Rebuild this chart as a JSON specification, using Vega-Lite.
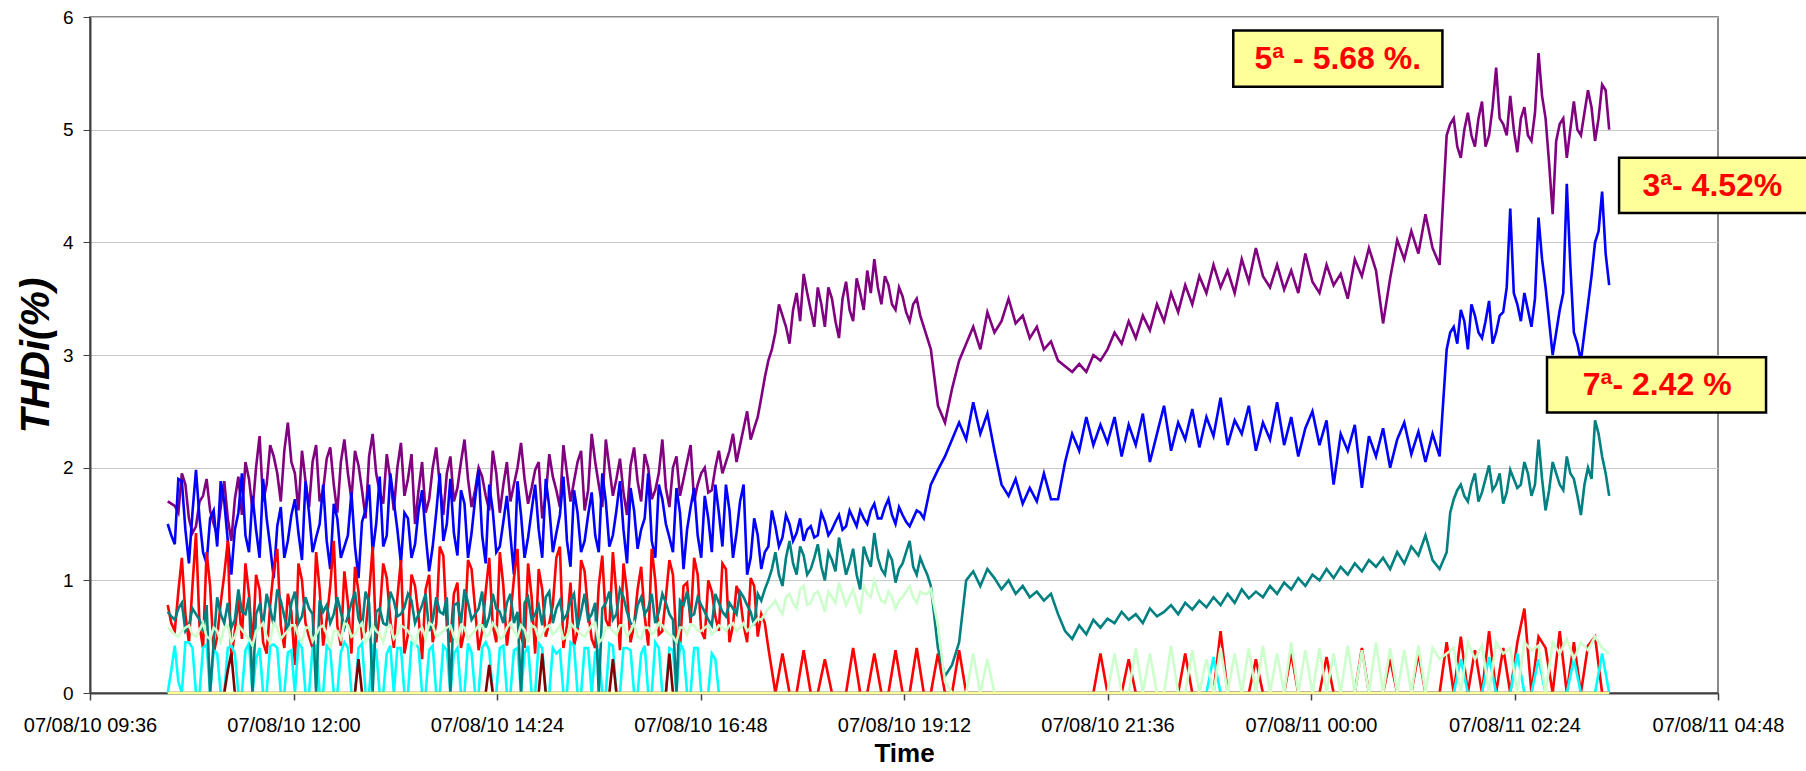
{
"$schema":"https://vega.github.io/schema/vega-lite/v6.json",
"width":1628,"height":676,
"autosize":"none",
"padding":{"left":90,"top":17,"right":88,"bottom":78},
"background":"white",
"config":{"view":{"stroke":"#8a8a8a","strokeWidth":2},"font":"Liberation Sans"},
"datasets":{
"thd":[
{"t":55,"p":1.70,"b":1.50,"g":0.72,"r":0.78,"l":0.58,"c":0,"d":0},
{"t":60,"p":1.66,"b":1.32,"g":0.65,"r":0.55,"l":0.52,"c":0.42,"d":0},
{"t":65,"p":1.95,"b":1.88,"g":0.80,"r":1.20,"l":0.55,"c":0,"d":0},
{"t":70,"p":1.55,"b":1.15,"g":0.60,"r":0.45,"l":0.60,"c":0.45,"d":0},
{"t":75,"p":1.48,"b":1.98,"g":0.70,"r":1.42,"l":0.50,"c":0,"d":0},
{"t":80,"p":1.75,"b":1.25,"g":0.55,"r":0.40,"l":0.62,"c":0.40,"d":0},
{"t":85,"p":1.62,"b":1.55,"g":0.00,"r":0.95,"l":0.48,"c":0,"d":0},
{"t":90,"p":1.40,"b":1.30,"g":0.85,"r":0.50,"l":0.55,"c":0.35,"d":0},
{"t":95,"p":1.88,"b":1.70,"g":0.62,"r":1.05,"l":0.58,"c":0,"d":0},
{"t":100,"p":1.35,"b":1.05,"g":0.58,"r":0.30,"l":0.45,"c":0.42,"d":0.35},
{"t":105,"p":1.92,"b":1.60,"g":0.92,"r":0.85,"l":0.60,"c":0,"d":0},
{"t":110,"p":2.05,"b":1.40,"g":0.70,"r":1.15,"l":0.52,"c":0.38,"d":0},
{"t":115,"p":1.62,"b":1.75,"g":0.00,"r":0.40,"l":0.42,"c":0,"d":0},
{"t":120,"p":2.28,"b":1.20,"g":0.78,"r":0.92,"l":0.58,"c":0.40,"d":0},
{"t":125,"p":1.85,"b":1.55,"g":0.88,"r":0.35,"l":0.50,"c":0,"d":0},
{"t":130,"p":2.10,"b":1.02,"g":0.60,"r":1.10,"l":0.62,"c":0.43,"d":0},
{"t":135,"p":1.70,"b":1.65,"g":0.82,"r":0.60,"l":0.48,"c":0,"d":0},
{"t":140,"p":2.40,"b":1.35,"g":0.55,"r":0.88,"l":0.55,"c":0.36,"d":0},
{"t":145,"p":1.95,"b":1.72,"g":0.90,"r":0.25,"l":0.60,"c":0,"d":0},
{"t":150,"p":2.15,"b":1.18,"g":0.68,"r":1.00,"l":0.45,"c":0.40,"d":0},
{"t":155,"p":1.65,"b":1.60,"g":0.75,"r":0.50,"l":0.58,"c":0,"d":0},
{"t":160,"p":2.20,"b":1.38,"g":0.00,"r":1.25,"l":0.52,"c":0.42,"d":0},
{"t":165,"p":1.80,"b":1.85,"g":0.72,"r":0.42,"l":0.60,"c":0,"d":0},
{"t":170,"p":2.18,"b":1.10,"g":0.62,"r":0.95,"l":0.40,"c":0.38,"d":0},
{"t":175,"p":1.60,"b":1.55,"g":0.85,"r":0.60,"l":0.55,"c":0,"d":0},
{"t":180,"p":2.25,"b":1.30,"g":0.58,"r":1.08,"l":0.62,"c":0.45,"d":0},
{"t":185,"p":1.72,"b":1.78,"g":0.80,"r":0.35,"l":0.50,"c":0,"d":0},
{"t":190,"p":2.02,"b":1.02,"g":0.66,"r":0.90,"l":0.58,"c":0.40,"d":0.30},
{"t":195,"p":1.55,"b":1.62,"g":0.90,"r":0.55,"l":0.45,"c":0,"d":0},
{"t":200,"p":2.30,"b":1.25,"g":0.00,"r":1.30,"l":0.60,"c":0.42,"d":0},
{"t":205,"p":1.78,"b":1.92,"g":0.75,"r":0.70,"l":0.52,"c":0,"d":0},
{"t":210,"p":2.12,"b":1.40,"g":0.60,"r":1.02,"l":0.58,"c":0.35,"d":0},
{"t":215,"p":1.62,"b":1.70,"g":0.82,"r":0.40,"l":0.48,"c":0,"d":0},
{"t":220,"p":2.22,"b":1.15,"g":0.70,"r":1.18,"l":0.60,"c":0.40,"d":0},
{"t":225,"p":1.90,"b":1.55,"g":0.88,"r":0.52,"l":0.55,"c":0,"d":0},
{"t":230,"p":1.50,"b":1.32,"g":0.62,"r":0.95,"l":0.42,"c":0.44,"d":0},
{"t":235,"p":2.05,"b":1.80,"g":0.78,"r":0.30,"l":0.58,"c":0,"d":0},
{"t":240,"p":1.72,"b":1.08,"g":0.55,"r":1.05,"l":0.62,"c":0.38,"d":0},
{"t":245,"p":2.18,"b":1.60,"g":0.85,"r":0.62,"l":0.50,"c":0,"d":0},
{"t":250,"p":1.58,"b":1.35,"g":0.70,"r":1.22,"l":0.55,"c":0.42,"d":0},
{"t":255,"p":2.10,"b":1.90,"g":0.00,"r":0.45,"l":0.60,"c":0,"d":0},
{"t":260,"p":1.82,"b":1.22,"g":0.80,"r":0.98,"l":0.45,"c":0.40,"d":0},
{"t":265,"p":2.25,"b":1.68,"g":0.92,"r":0.55,"l":0.58,"c":0,"d":0},
{"t":270,"p":1.65,"b":1.42,"g":0.65,"r":1.10,"l":0.52,"c":0.36,"d":0},
{"t":275,"p":2.00,"b":1.98,"g":0.75,"r":0.38,"l":0.60,"c":0,"d":0},
{"t":280,"p":1.75,"b":1.15,"g":0.58,"r":0.90,"l":0.50,"c":0.45,"d":0},
{"t":285,"p":2.15,"b":1.62,"g":0.88,"r":0.60,"l":0.62,"c":0,"d":0},
{"t":290,"p":1.60,"b":1.30,"g":0.72,"r":1.25,"l":0.48,"c":0.40,"d":0},
{"t":295,"p":2.05,"b":1.75,"g":0.80,"r":0.42,"l":0.58,"c":0,"d":0},
{"t":300,"p":1.85,"b":1.05,"g":0.62,"r":1.02,"l":0.55,"c":0.38,"d":0},
{"t":305,"p":2.22,"b":1.58,"g":0.00,"r":0.50,"l":0.60,"c":0,"d":0},
{"t":310,"p":1.68,"b":1.38,"g":0.85,"r":1.15,"l":0.45,"c":0.42,"d":0},
{"t":315,"p":1.98,"b":1.85,"g":0.70,"r":0.35,"l":0.58,"c":0,"d":0},
{"t":320,"p":1.55,"b":1.20,"g":0.60,"r":0.92,"l":0.52,"c":0.40,"d":0.35},
{"t":325,"p":2.12,"b":1.65,"g":0.90,"r":0.62,"l":0.60,"c":0,"d":0},
{"t":330,"p":1.80,"b":1.42,"g":0.75,"r":1.20,"l":0.55,"c":0.35,"d":0},
{"t":335,"p":2.20,"b":1.92,"g":0.65,"r":0.40,"l":0.48,"c":0,"d":0},
{"t":340,"p":1.70,"b":1.12,"g":0.82,"r":0.98,"l":0.62,"c":0.45,"d":0},
{"t":345,"p":2.05,"b":1.60,"g":0.58,"r":0.55,"l":0.55,"c":0,"d":0},
{"t":350,"p":1.62,"b":1.35,"g":0.88,"r":1.08,"l":0.50,"c":0.40,"d":0},
{"t":355,"p":2.30,"b":1.78,"g":0.70,"r":0.48,"l":0.60,"c":0,"d":0},
{"t":360,"p":1.85,"b":1.25,"g":0.00,"r":0.95,"l":0.45,"c":0.38,"d":0},
{"t":365,"p":2.25,"b":1.70,"g":0.80,"r":0.65,"l":0.58,"c":0,"d":0},
{"t":370,"p":1.75,"b":1.40,"g":0.65,"r":1.25,"l":0.55,"c":0.42,"d":0.30},
{"t":375,"p":2.08,"b":1.88,"g":0.92,"r":0.38,"l":0.60,"c":0,"d":0},
{"t":380,"p":1.58,"b":1.15,"g":0.72,"r":0.90,"l":0.50,"c":0.40,"d":0},
{"t":385,"p":2.18,"b":1.62,"g":0.60,"r":0.60,"l":0.62,"c":0,"d":0},
{"t":390,"p":1.70,"b":1.45,"g":0.85,"r":1.12,"l":0.48,"c":0.35,"d":0},
{"t":395,"p":2.00,"b":1.95,"g":0.75,"r":0.42,"l":0.58,"c":0,"d":0},
{"t":400,"p":1.80,"b":1.20,"g":0.62,"r":1.00,"l":0.55,"c":0.45,"d":0},
{"t":405,"p":2.25,"b":1.72,"g":0.88,"r":0.55,"l":0.60,"c":0,"d":0},
{"t":410,"p":1.65,"b":1.38,"g":0.70,"r":1.18,"l":0.52,"c":0.40,"d":0.35},
{"t":415,"p":2.10,"b":1.82,"g":0.00,"r":0.45,"l":0.45,"c":0,"d":0},
{"t":420,"p":1.90,"b":1.10,"g":0.78,"r":0.95,"l":0.58,"c":0.38,"d":0},
{"t":425,"p":2.20,"b":1.65,"g":0.68,"r":0.62,"l":0.60,"c":0,"d":0},
{"t":430,"p":1.85,"b":1.40,"g":0.85,"r":1.05,"l":0.55,"c":0.40,"d":0},
{"t":435,"p":2.00,"b":1.75,"g":0.72,"r":0.48,"l":0.58,"c":0,"d":0},
{"t":440,"p":1.80,"b":1.25,"g":0.60,"r":0.90,"l":0.52,"c":0.35,"d":0},
{"t":445,"p":2.15,"b":1.60,"g":0.80,"r":0.55,"l":0.60,"c":0,"d":0},
{"t":450,"p":2.05,"b":1.85,"g":0.68,"r":1.10,"l":0.55,"c":0,"d":0},
{"t":455,"p":2.30,"b":1.20,"g":0.75,"r":0.60,"l":0.62,"c":0,"d":0},
{"t":460,"p":2.20,"b":1.70,"g":0.90,"r":0.85,"l":0.58,"c":0,"d":0},
{"t":465,"p":2.50,"b":1.05,"g":0.78,"r":0.45,"l":0.55,"c":0,"d":0},
{"t":470,"p":2.35,"b":1.55,"g":0.60,"r":0.95,"l":0.62,"c":0,"d":0},
{"t":475,"p":2.62,"b":1.10,"g":0.82,"r":0.70,"l":0.65,"c":0,"d":0},
{"t":480,"p":2.95,"b":1.30,"g":1.00,"r":0.40,"l":0.75,"c":0,"d":0},
{"t":485,"p":3.20,"b":1.48,"g":1.25,"r":0,"l":0.82,"c":0,"d":0},
{"t":490,"p":3.35,"b":1.38,"g":0.95,"r":0.35,"l":0.70,"c":0,"d":0},
{"t":495,"p":3.10,"b":1.50,"g":1.35,"r":0,"l":0.88,"c":0,"d":0},
{"t":500,"p":3.55,"b":1.42,"g":1.05,"r":0,"l":0.75,"c":0,"d":0},
{"t":505,"p":3.72,"b":1.35,"g":1.22,"r":0.38,"l":0.95,"c":0,"d":0},
{"t":510,"p":3.40,"b":1.48,"g":1.10,"r":0,"l":0.80,"c":0,"d":0},
{"t":515,"p":3.60,"b":1.40,"g":1.32,"r":0,"l":0.90,"c":0,"d":0},
{"t":520,"p":3.25,"b":1.52,"g":1.00,"r":0.30,"l":0.72,"c":0,"d":0},
{"t":525,"p":3.50,"b":1.45,"g":1.18,"r":0,"l":0.85,"c":0,"d":0},
{"t":530,"p":3.15,"b":1.58,"g":1.38,"r":0,"l":0.98,"c":0,"d":0},
{"t":535,"p":3.65,"b":1.48,"g":1.05,"r":0,"l":0.78,"c":0,"d":0},
{"t":540,"p":3.30,"b":1.55,"g":1.28,"r":0.40,"l":0.92,"c":0,"d":0},
{"t":545,"p":3.55,"b":1.62,"g":0.92,"r":0,"l":0.70,"c":0,"d":0},
{"t":550,"p":3.75,"b":1.50,"g":1.20,"r":0,"l":0.88,"c":0,"d":0},
{"t":555,"p":3.85,"b":1.68,"g":1.42,"r":0.35,"l":1.00,"c":0,"d":0},
{"t":560,"p":3.45,"b":1.55,"g":1.10,"r":0,"l":0.82,"c":0,"d":0},
{"t":565,"p":3.62,"b":1.72,"g":1.25,"r":0,"l":0.90,"c":0,"d":0},
{"t":570,"p":3.40,"b":1.50,"g":0.98,"r":0.38,"l":0.75,"c":0,"d":0},
{"t":575,"p":3.52,"b":1.58,"g":1.15,"r":0,"l":0.85,"c":0,"d":0},
{"t":580,"p":3.30,"b":1.48,"g":1.35,"r":0,"l":0.95,"c":0,"d":0},
{"t":585,"p":3.50,"b":1.62,"g":1.05,"r":0.40,"l":0.80,"c":0,"d":0},
{"t":590,"p":3.25,"b":1.55,"g":1.12,"r":0,"l":0.88,"c":0,"d":0},
{"t":595,"p":3.05,"b":1.85,"g":0.95,"r":0,"l":0.92,"c":0,"d":0},
{"t":600,"p":2.55,"b":1.98,"g":0.40,"r":0.35,"l":0.60,"c":0,"d":0},
{"t":605,"p":2.40,"b":2.10,"g":0.15,"r":0,"l":0.10,"c":0,"d":0},
{"t":610,"p":2.70,"b":2.25,"g":0.25,"r":0,"l":0,"c":0,"d":0},
{"t":615,"p":2.95,"b":2.40,"g":0.45,"r":0.38,"l":0,"c":0,"d":0},
{"t":620,"p":3.10,"b":2.25,"g":1.00,"r":0,"l":0,"c":0,"d":0},
{"t":625,"p":3.25,"b":2.58,"g":1.08,"r":0,"l":0.35,"c":0,"d":0},
{"t":630,"p":3.05,"b":2.30,"g":0.95,"r":0,"l":0,"c":0,"d":0},
{"t":635,"p":3.38,"b":2.48,"g":1.10,"r":0,"l":0.30,"c":0,"d":0},
{"t":640,"p":3.20,"b":2.15,"g":1.02,"r":0,"l":0,"c":0,"d":0},
{"t":645,"p":3.30,"b":1.85,"g":0.92,"r":0,"l":0,"c":0,"d":0},
{"t":650,"p":3.50,"b":1.75,"g":1.00,"r":0,"l":0,"c":0,"d":0},
{"t":655,"p":3.28,"b":1.90,"g":0.88,"r":0,"l":0,"c":0,"d":0},
{"t":660,"p":3.35,"b":1.68,"g":0.95,"r":0,"l":0,"c":0,"d":0},
{"t":665,"p":3.15,"b":1.82,"g":0.85,"r":0,"l":0,"c":0,"d":0},
{"t":670,"p":3.25,"b":1.70,"g":0.90,"r":0,"l":0,"c":0,"d":0},
{"t":675,"p":3.05,"b":1.95,"g":0.82,"r":0,"l":0,"c":0,"d":0},
{"t":680,"p":3.12,"b":1.72,"g":0.88,"r":0,"l":0,"c":0,"d":0},
{"t":685,"p":2.95,"b":1.72,"g":0.70,"r":0,"l":0,"c":0,"d":0},
{"t":690,"p":2.90,"b":2.05,"g":0.55,"r":0,"l":0,"c":0,"d":0},
{"t":695,"p":2.85,"b":2.30,"g":0.48,"r":0,"l":0,"c":0,"d":0},
{"t":700,"p":2.92,"b":2.15,"g":0.60,"r":0,"l":0,"c":0,"d":0},
{"t":705,"p":2.85,"b":2.45,"g":0.52,"r":0,"l":0,"c":0,"d":0},
{"t":710,"p":3.00,"b":2.20,"g":0.65,"r":0,"l":0,"c":0,"d":0},
{"t":715,"p":2.95,"b":2.38,"g":0.58,"r":0.35,"l":0,"c":0,"d":0},
{"t":720,"p":3.05,"b":2.22,"g":0.66,"r":0,"l":0,"c":0,"d":0},
{"t":725,"p":3.20,"b":2.45,"g":0.62,"r":0,"l":0.35,"c":0,"d":0},
{"t":730,"p":3.10,"b":2.10,"g":0.72,"r":0,"l":0,"c":0,"d":0},
{"t":735,"p":3.30,"b":2.38,"g":0.65,"r":0.30,"l":0,"c":0,"d":0},
{"t":740,"p":3.15,"b":2.20,"g":0.70,"r":0,"l":0.40,"c":0,"d":0},
{"t":745,"p":3.35,"b":2.48,"g":0.62,"r":0,"l":0,"c":0,"d":0},
{"t":750,"p":3.22,"b":2.05,"g":0.75,"r":0,"l":0.35,"c":0,"d":0},
{"t":755,"p":3.45,"b":2.30,"g":0.68,"r":0,"l":0,"c":0,"d":0},
{"t":760,"p":3.30,"b":2.55,"g":0.72,"r":0,"l":0,"c":0,"d":0},
{"t":765,"p":3.55,"b":2.15,"g":0.78,"r":0,"l":0.42,"c":0,"d":0},
{"t":770,"p":3.38,"b":2.40,"g":0.70,"r":0,"l":0,"c":0,"d":0},
{"t":775,"p":3.62,"b":2.25,"g":0.80,"r":0.35,"l":0,"c":0,"d":0},
{"t":780,"p":3.45,"b":2.52,"g":0.74,"r":0,"l":0.38,"c":0,"d":0},
{"t":785,"p":3.70,"b":2.18,"g":0.82,"r":0,"l":0,"c":0,"d":0},
{"t":790,"p":3.55,"b":2.45,"g":0.76,"r":0,"l":0.30,"c":0,"d":0},
{"t":795,"p":3.80,"b":2.28,"g":0.85,"r":0,"l":0,"c":0.32,"d":0},
{"t":800,"p":3.60,"b":2.62,"g":0.78,"r":0.55,"l":0.40,"c":0,"d":0},
{"t":805,"p":3.75,"b":2.20,"g":0.88,"r":0,"l":0,"c":0,"d":0},
{"t":810,"p":3.55,"b":2.42,"g":0.80,"r":0,"l":0.35,"c":0,"d":0},
{"t":815,"p":3.85,"b":2.30,"g":0.92,"r":0,"l":0,"c":0,"d":0},
{"t":820,"p":3.65,"b":2.55,"g":0.84,"r":0,"l":0.40,"c":0,"d":0},
{"t":825,"p":3.95,"b":2.15,"g":0.90,"r":0.30,"l":0,"c":0,"d":0},
{"t":830,"p":3.70,"b":2.40,"g":0.85,"r":0,"l":0.42,"c":0,"d":0},
{"t":835,"p":3.60,"b":2.25,"g":0.95,"r":0,"l":0,"c":0,"d":0},
{"t":840,"p":3.80,"b":2.58,"g":0.88,"r":0,"l":0.35,"c":0,"d":0},
{"t":845,"p":3.58,"b":2.20,"g":0.98,"r":0,"l":0,"c":0,"d":0},
{"t":850,"p":3.75,"b":2.45,"g":0.92,"r":0.35,"l":0.45,"c":0,"d":0},
{"t":855,"p":3.55,"b":2.10,"g":1.02,"r":0,"l":0,"c":0,"d":0},
{"t":860,"p":3.90,"b":2.35,"g":0.95,"r":0,"l":0.38,"c":0,"d":0},
{"t":865,"p":3.65,"b":2.50,"g":1.05,"r":0,"l":0,"c":0,"d":0},
{"t":870,"p":3.55,"b":2.20,"g":1.00,"r":0,"l":0.40,"c":0,"d":0},
{"t":875,"p":3.80,"b":2.42,"g":1.10,"r":0.32,"l":0,"c":0,"d":0},
{"t":880,"p":3.62,"b":1.85,"g":1.02,"r":0,"l":0.35,"c":0,"d":0},
{"t":885,"p":3.72,"b":2.30,"g":1.12,"r":0,"l":0,"c":0,"d":0},
{"t":890,"p":3.50,"b":2.15,"g":1.05,"r":0,"l":0.42,"c":0,"d":0},
{"t":895,"p":3.85,"b":2.38,"g":1.15,"r":0,"l":0,"c":0,"d":0},
{"t":900,"p":3.70,"b":1.82,"g":1.08,"r":0.40,"l":0.38,"c":0,"d":0},
{"t":905,"p":3.95,"b":2.28,"g":1.18,"r":0,"l":0,"c":0,"d":0},
{"t":910,"p":3.75,"b":2.10,"g":1.12,"r":0,"l":0.45,"c":0,"d":0},
{"t":915,"p":3.28,"b":2.35,"g":1.20,"r":0,"l":0,"c":0,"d":0},
{"t":920,"p":3.68,"b":2.00,"g":1.10,"r":0.30,"l":0.40,"c":0,"d":0},
{"t":925,"p":4.02,"b":2.25,"g":1.25,"r":0,"l":0,"c":0,"d":0},
{"t":930,"p":3.85,"b":2.40,"g":1.15,"r":0,"l":0.38,"c":0,"d":0},
{"t":935,"p":4.10,"b":2.12,"g":1.30,"r":0,"l":0,"c":0,"d":0},
{"t":940,"p":3.90,"b":2.32,"g":1.22,"r":0.35,"l":0.42,"c":0,"d":0},
{"t":945,"p":4.25,"b":2.05,"g":1.40,"r":0,"l":0,"c":0,"d":0},
{"t":950,"p":3.95,"b":2.30,"g":1.18,"r":0,"l":0.40,"c":0,"d":0},
{"t":955,"p":3.80,"b":2.10,"g":1.10,"r":0,"l":0.30,"c":0,"d":0},
{"t":960,"p":4.95,"b":3.05,"g":1.25,"r":0.45,"l":0.35,"c":0,"d":0},
{"t":965,"p":5.10,"b":3.25,"g":1.72,"r":0,"l":0.40,"c":0,"d":0},
{"t":970,"p":4.75,"b":3.40,"g":1.85,"r":0.50,"l":0,"c":0.30,"d":0},
{"t":975,"p":5.15,"b":3.05,"g":1.70,"r":0,"l":0.45,"c":0,"d":0},
{"t":980,"p":4.85,"b":3.35,"g":1.95,"r":0.38,"l":0.30,"c":0,"d":0},
{"t":985,"p":5.25,"b":3.15,"g":1.78,"r":0,"l":0.42,"c":0,"d":0},
{"t":990,"p":4.95,"b":3.48,"g":2.02,"r":0.55,"l":0,"c":0.32,"d":0},
{"t":995,"p":5.55,"b":3.20,"g":1.85,"r":0,"l":0.45,"c":0,"d":0},
{"t":1000,"p":5.05,"b":3.38,"g":1.68,"r":0.40,"l":0.35,"c":0,"d":0},
{"t":1005,"p":5.30,"b":4.30,"g":1.98,"r":0,"l":0.40,"c":0,"d":0},
{"t":1010,"p":4.80,"b":3.45,"g":1.82,"r":0.45,"l":0,"c":0.35,"d":0},
{"t":1015,"p":5.20,"b":3.55,"g":2.05,"r":0.75,"l":0.45,"c":0,"d":0},
{"t":1020,"p":4.90,"b":3.25,"g":1.75,"r":0,"l":0.38,"c":0,"d":0},
{"t":1025,"p":5.68,"b":4.22,"g":2.25,"r":0.50,"l":0.42,"c":0.30,"d":0},
{"t":1030,"p":5.10,"b":3.60,"g":1.62,"r":0.40,"l":0,"c":0,"d":0},
{"t":1035,"p":4.25,"b":3.00,"g":2.05,"r":0,"l":0.45,"c":0,"d":0},
{"t":1040,"p":5.05,"b":3.40,"g":1.85,"r":0.55,"l":0.35,"c":0,"d":0},
{"t":1045,"p":4.75,"b":4.52,"g":2.10,"r":0,"l":0.48,"c":0,"d":0},
{"t":1050,"p":5.25,"b":3.20,"g":1.90,"r":0.45,"l":0.30,"c":0.30,"d":0},
{"t":1055,"p":4.95,"b":2.95,"g":1.58,"r":0,"l":0.45,"c":0,"d":0},
{"t":1060,"p":5.35,"b":3.45,"g":2.00,"r":0.42,"l":0.38,"c":0,"d":0},
{"t":1065,"p":4.90,"b":4.00,"g":2.42,"r":0.50,"l":0.50,"c":0,"d":0},
{"t":1070,"p":5.40,"b":4.45,"g":2.10,"r":0,"l":0.40,"c":0.35,"d":0},
{"t":1075,"p":5.00,"b":3.62,"g":1.75,"r":0,"l":0.35,"c":0,"d":0},
{"t":57.5,"p":1.68,"b":1.40,"g":0.68,"r":0.62,"l":0.55,"c":0.20,"d":0},
{"t":62.5,"p":1.60,"b":1.90,"g":0.75,"r":0.90,"l":0.50,"c":0.10,"d":0},
{"t":67.5,"p":1.85,"b":1.45,"g":0.55,"r":0.70,"l":0.58,"c":0.45,"d":0},
{"t":72.5,"p":1.42,"b":1.60,"g":0.75,"r":0.95,"l":0.52,"c":0.40,"d":0},
{"t":77.5,"p":1.70,"b":1.55,"g":0.65,"r":0.60,"l":0.56,"c":0,"d":0},
{"t":82.5,"p":1.90,"b":1.15,"g":0.78,"r":1.25,"l":0.50,"c":0.43,"d":0},
{"t":87.5,"p":1.50,"b":1.62,"g":0.45,"r":0.35,"l":0.58,"c":0.38,"d":0},
{"t":92.5,"p":1.65,"b":1.88,"g":0.70,"r":0.80,"l":0.45,"c":0,"d":0},
{"t":97.5,"p":1.55,"b":1.35,"g":0.80,"r":1.35,"l":0.60,"c":0.40,"d":0.20},
{"t":102.5,"p":1.72,"b":1.45,"g":0.65,"r":0.55,"l":0.50,"c":0.35,"d":0},
{"t":107.5,"p":1.58,"b":1.95,"g":0.72,"r":0.48,"l":0.56,"c":0,"d":0},
{"t":112.5,"p":1.90,"b":1.25,"g":0.85,"r":0.88,"l":0.48,"c":0.44,"d":0},
{"t":117.5,"p":2.00,"b":1.45,"g":0.70,"r":1.05,"l":0.55,"c":0.30,"d":0},
{"t":122.5,"p":1.70,"b":1.90,"g":0.60,"r":0.45,"l":0.62,"c":0,"d":0},
{"t":127.5,"p":2.20,"b":1.30,"g":0.75,"r":0.78,"l":0.45,"c":0.42,"d":0},
{"t":132.5,"p":1.95,"b":1.48,"g":0.92,"r":1.28,"l":0.58,"c":0.40,"d":0},
{"t":137.5,"p":2.15,"b":1.20,"g":0.68,"r":0.40,"l":0.52,"c":0,"d":0},
{"t":142.5,"p":2.05,"b":1.58,"g":0.80,"r":0.72,"l":0.60,"c":0.38,"d":0},
{"t":147.5,"p":1.62,"b":1.42,"g":0.62,"r":1.15,"l":0.50,"c":0.45,"d":0},
{"t":152.5,"p":1.88,"b":1.88,"g":0.85,"r":0.62,"l":0.58,"c":0,"d":0},
{"t":157.5,"p":2.05,"b":1.25,"g":0.70,"r":0.40,"l":0.46,"c":0.40,"d":0},
{"t":162.5,"p":1.70,"b":1.50,"g":0.82,"r":0.92,"l":0.58,"c":0,"d":0},
{"t":167.5,"p":2.08,"b":1.35,"g":0.78,"r":0.65,"l":0.52,"c":0.42,"d":0},
{"t":172.5,"p":1.85,"b":1.68,"g":0.70,"r":1.35,"l":0.55,"c":0,"d":0},
{"t":177.5,"p":2.05,"b":1.20,"g":0.72,"r":0.42,"l":0.48,"c":0.36,"d":0},
{"t":182.5,"p":1.95,"b":1.40,"g":0.68,"r":0.80,"l":0.60,"c":0.40,"d":0},
{"t":187.5,"p":2.15,"b":1.30,"g":0.90,"r":1.12,"l":0.52,"c":0,"d":0},
{"t":192.5,"p":1.80,"b":1.52,"g":0.58,"r":0.50,"l":0.62,"c":0.44,"d":0},
{"t":197.5,"p":2.10,"b":1.85,"g":0.80,"r":0.88,"l":0.50,"c":0,"d":0},
{"t":202.5,"p":1.95,"b":1.50,"g":0.72,"r":0.45,"l":0.55,"c":0.38,"d":0},
{"t":207.5,"p":1.68,"b":1.30,"g":0.62,"r":1.15,"l":0.45,"c":0,"d":0},
{"t":212.5,"p":1.90,"b":1.95,"g":0.90,"r":0.65,"l":0.60,"c":0.42,"d":0},
{"t":217.5,"p":2.00,"b":1.45,"g":0.68,"r":0.85,"l":0.52,"c":0.40,"d":0},
{"t":222.5,"p":1.75,"b":1.60,"g":0.76,"r":0.35,"l":0.58,"c":0,"d":0},
{"t":227.5,"p":2.12,"b":1.20,"g":0.82,"r":1.05,"l":0.50,"c":0.45,"d":0},
{"t":232.5,"p":1.80,"b":1.62,"g":0.70,"r":0.68,"l":0.55,"c":0.40,"d":0},
{"t":237.5,"p":1.60,"b":1.40,"g":0.88,"r":0.92,"l":0.48,"c":0,"d":0},
{"t":242.5,"p":2.00,"b":1.30,"g":0.65,"r":0.45,"l":0.60,"c":0.42,"d":0},
{"t":247.5,"p":1.85,"b":1.95,"g":0.72,"r":1.30,"l":0.52,"c":0,"d":0},
{"t":252.5,"p":1.95,"b":1.50,"g":0.85,"r":0.60,"l":0.58,"c":0.38,"d":0},
{"t":257.5,"p":1.70,"b":1.42,"g":0.78,"r":0.88,"l":0.50,"c":0.35,"d":0},
{"t":262.5,"p":2.05,"b":1.80,"g":0.62,"r":0.40,"l":0.60,"c":0,"d":0},
{"t":267.5,"p":1.90,"b":1.20,"g":0.80,"r":1.18,"l":0.48,"c":0.44,"d":0},
{"t":272.5,"p":1.80,"b":1.72,"g":0.70,"r":0.75,"l":0.55,"c":0,"d":0},
{"t":277.5,"p":1.92,"b":1.40,"g":0.90,"r":0.55,"l":0.60,"c":0.40,"d":0},
{"t":282.5,"p":1.62,"b":1.85,"g":0.68,"r":1.20,"l":0.52,"c":0.38,"d":0.25},
{"t":287.5,"p":1.95,"b":1.25,"g":0.75,"r":0.45,"l":0.58,"c":0,"d":0},
{"t":292.5,"p":1.85,"b":1.52,"g":0.62,"r":0.95,"l":0.50,"c":0.42,"d":0},
{"t":297.5,"p":1.70,"b":1.40,"g":0.88,"r":0.68,"l":0.62,"c":0,"d":0},
{"t":302.5,"p":2.00,"b":1.88,"g":0.72,"r":1.28,"l":0.50,"c":0.40,"d":0},
{"t":307.5,"p":1.90,"b":1.20,"g":0.80,"r":0.40,"l":0.56,"c":0.35,"d":0},
{"t":312.5,"p":1.82,"b":1.62,"g":0.65,"r":0.85,"l":0.60,"c":0,"d":0},
{"t":317.5,"p":2.05,"b":1.45,"g":0.78,"r":1.10,"l":0.48,"c":0.44,"d":0},
{"t":322.5,"p":1.75,"b":1.90,"g":0.85,"r":0.50,"l":0.58,"c":0,"d":0},
{"t":327.5,"p":1.92,"b":1.25,"g":0.62,"r":0.78,"l":0.52,"c":0.40,"d":0},
{"t":332.5,"p":1.65,"b":1.58,"g":0.82,"r":1.30,"l":0.60,"c":0.38,"d":0},
{"t":337.5,"p":1.95,"b":1.35,"g":0.70,"r":0.60,"l":0.50,"c":0,"d":0},
{"t":342.5,"p":1.88,"b":1.80,"g":0.88,"r":0.42,"l":0.58,"c":0.42,"d":0},
{"t":347.5,"p":2.15,"b":1.25,"g":0.72,"r":1.18,"l":0.52,"c":0,"d":0},
{"t":352.5,"p":1.80,"b":1.58,"g":0.65,"r":0.72,"l":0.55,"c":0.40,"d":0},
{"t":357.5,"p":2.05,"b":1.40,"g":0.80,"r":0.40,"l":0.62,"c":0.36,"d":0},
{"t":362.5,"p":1.65,"b":1.95,"g":0.75,"r":1.22,"l":0.48,"c":0,"d":0},
{"t":367.5,"p":2.00,"b":1.30,"g":0.90,"r":0.58,"l":0.58,"c":0.44,"d":0},
{"t":372.5,"p":1.90,"b":1.62,"g":0.70,"r":0.88,"l":0.52,"c":0,"d":0},
{"t":377.5,"p":1.78,"b":1.45,"g":0.85,"r":1.15,"l":0.60,"c":0.40,"d":0},
{"t":382.5,"p":2.02,"b":1.82,"g":0.62,"r":0.45,"l":0.55,"c":0.38,"d":0},
{"t":387.5,"p":1.88,"b":1.28,"g":0.78,"r":0.92,"l":0.50,"c":0,"d":0},
{"t":392.5,"p":2.12,"b":1.55,"g":0.70,"r":0.68,"l":0.58,"c":0.42,"d":0},
{"t":397.5,"p":1.72,"b":1.35,"g":0.88,"r":1.28,"l":0.52,"c":0,"d":0},
{"t":402.5,"p":1.95,"b":1.85,"g":0.72,"r":0.52,"l":0.62,"c":0.40,"d":0},
{"t":407.5,"p":1.82,"b":1.50,"g":0.80,"r":0.85,"l":0.55,"c":0,"d":0},
{"t":412.5,"p":2.00,"b":1.25,"g":0.65,"r":1.05,"l":0.50,"c":0.38,"d":0},
{"t":417.5,"p":1.75,"b":1.60,"g":0.82,"r":0.40,"l":0.58,"c":0.44,"d":0},
{"t":422.5,"p":2.05,"b":1.45,"g":0.90,"r":0.98,"l":0.52,"c":0,"d":0},
{"t":427.5,"p":1.70,"b":1.82,"g":0.70,"r":1.20,"l":0.60,"c":0.40,"d":0},
{"t":432.5,"p":1.95,"b":1.20,"g":0.78,"r":0.55,"l":0.55,"c":0,"d":0},
{"t":437.5,"p":1.78,"b":1.55,"g":0.65,"r":1.00,"l":0.60,"c":0,"d":0},
{"t":442.5,"p":2.00,"b":1.85,"g":0.88,"r":0.68,"l":0.55,"c":0.30,"d":0},
{"t":447.5,"p":1.95,"b":1.30,"g":0.72,"r":1.15,"l":0.58,"c":0,"d":0},
{"t":452.5,"p":2.15,"b":1.62,"g":0.80,"r":0.45,"l":0.60,"c":0,"d":0},
{"t":457.5,"p":2.05,"b":1.42,"g":0.70,"r":0.95,"l":0.55,"c":0,"d":0},
{"t":462.5,"p":2.35,"b":1.85,"g":0.85,"r":0.60,"l":0.62,"c":0,"d":0},
{"t":467.5,"p":2.25,"b":1.20,"g":0.72,"r":1.02,"l":0.58,"c":0,"d":0},
{"t":472.5,"p":2.45,"b":1.40,"g":0.88,"r":0.50,"l":0.66,"c":0,"d":0},
{"t":477.5,"p":2.80,"b":1.25,"g":0.92,"r":0.62,"l":0.70,"c":0,"d":0},
{"t":482.5,"p":3.05,"b":1.62,"g":1.10,"l":0.78},
{"t":487.5,"p":3.45,"b":1.30,"g":1.05,"l":0.75},
{"t":492.5,"p":3.25,"b":1.58,"g":1.20,"l":0.85},
{"t":497.5,"p":3.40,"b":1.35,"g":1.15,"l":0.80},
{"t":502.5,"p":3.30,"b":1.55,"g":1.30,"l":0.92},
{"t":507.5,"p":3.55,"b":1.45,"g":1.05,"l":0.78},
{"t":512.5,"p":3.25,"b":1.38,"g":1.20,"l":0.88},
{"t":517.5,"p":3.45,"b":1.60,"g":1.12,"l":0.82},
{"t":522.5,"p":3.60,"b":1.40,"g":1.25,"l":0.90},
{"t":527.5,"p":3.30,"b":1.52,"g":1.08,"l":0.80},
{"t":532.5,"p":3.50,"b":1.45,"g":1.22,"l":0.88},
{"t":537.5,"p":3.40,"b":1.62,"g":1.15,"l":0.85},
{"t":542.5,"p":3.68,"b":1.48,"g":1.05,"l":0.80},
{"t":547.5,"p":3.40,"b":1.55,"g":1.30,"l":0.95},
{"t":552.5,"p":3.55,"b":1.62,"g":1.12,"l":0.85},
{"t":557.5,"p":3.60,"b":1.55,"g":1.20,"l":0.90},
{"t":562.5,"p":3.70,"b":1.65,"g":1.05,"l":0.80},
{"t":567.5,"p":3.45,"b":1.58,"g":1.18,"l":0.85},
{"t":572.5,"p":3.60,"b":1.65,"g":1.10,"l":0.82},
{"t":577.5,"p":3.38,"b":1.52,"g":1.25,"l":0.90},
{"t":582.5,"p":3.45,"b":1.55,"g":1.12,"l":0.85},
{"t":587.5,"p":3.35,"b":1.60,"g":1.20,"l":0.90},
{"t":592.5,"p":3.15,"b":1.70,"g":1.05,"l":0.88},
{"t":962.5,"p":5.05,"b":3.20,"g":1.60},
{"t":967.5,"p":4.85,"b":3.10,"g":1.80},
{"t":972.5,"p":5.00,"b":3.30,"g":1.75},
{"t":977.5,"p":4.95,"b":3.45,"g":1.85},
{"t":982.5,"p":5.10,"b":3.20,"g":1.70},
{"t":987.5,"p":4.85,"b":3.30,"g":1.90},
{"t":992.5,"p":5.20,"b":3.10,"g":1.80},
{"t":997.5,"p":5.10,"b":3.35,"g":1.95},
{"t":1002.5,"p":4.95,"b":3.60,"g":1.78},
{"t":1007.5,"p":5.00,"b":3.55,"g":1.90},
{"t":1012.5,"p":5.10,"b":3.30,"g":1.85},
{"t":1017.5,"p":4.95,"b":3.40,"g":1.95},
{"t":1022.5,"p":5.15,"b":3.50,"g":1.85},
{"t":1027.5,"p":5.30,"b":3.85,"g":1.90},
{"t":1032.5,"p":4.70,"b":3.30,"g":1.80},
{"t":1037.5,"p":4.90,"b":3.20,"g":1.95},
{"t":1042.5,"p":5.10,"b":3.55,"g":1.80},
{"t":1047.5,"p":5.00,"b":3.80,"g":1.95},
{"t":1052.5,"p":5.00,"b":3.10,"g":1.75},
{"t":1057.5,"p":5.15,"b":3.20,"g":1.85},
{"t":1062.5,"p":5.20,"b":3.70,"g":1.90},
{"t":1067.5,"p":5.10,"b":4.10,"g":2.30},
{"t":1072.5,"p":5.35,"b":3.90,"g":1.95}
],
"zero":[{"t":55,"v":0},{"t":1075,"v":0}],
"notes":[
{"x1":809,"x2":957,"y1":5.38,"y2":5.88,"tx":883,"ty":5.63,"label":"5ª - 5.68 %."},
{"x1":1082,"x2":1230,"y1":4.26,"y2":4.75,"tx":1148,"ty":4.50,"label":"3ª- 4.52%"},
{"x1":1031,"x2":1186,"y1":2.49,"y2":2.98,"tx":1109,"ty":2.735,"label":"7ª- 2.42 %"}
]
},
"layer":[
{"data":{"name":"thd"},
 "transform":[{"fold":["p","b","r","c","d","g","l"],"as":["s","v"]},{"filter":{"field":"v","valid":true}}],
 "mark":{"type":"line","strokeWidth":2.6,"clip":true},
 "encoding":{
  "x":{"field":"t","type":"quantitative","title":"Time",
   "scale":{"domain":[0,1152],"nice":false,"zero":false},
   "axis":{"title":"Time","values":[0,144,288,432,576,720,864,1008,1152],
    "labelExpr":"timeFormat(datetime(2007,7,10,9,36+datum.value),'%y/%m/%d %H:%M')",
    "grid":false,"domainColor":"#404040","domainWidth":2,"tickColor":"#404040","tickSize":7,"tickWidth":1.5,
    "labelFont":"Liberation Sans","labelFontSize":20,"labelColor":"#000","labelPadding":15,
    "labelFlush":false,"labelOverlap":false,"labelBound":false,
    "titleFont":"Liberation Sans","titleFontSize":26,"titleFontWeight":"bold","titleColor":"#000","titlePadding":5}},
  "y":{"field":"v","type":"quantitative","title":"THDi(%)",
   "scale":{"domain":[0,6],"nice":false},
   "axis":{"title":"THDi(%)","values":[0,1,2,3,4,5,6],"format":"d","grid":true,"gridColor":"#C8C8C8","gridWidth":1,
    "domainColor":"#404040","domainWidth":2,"tickColor":"#404040","tickSize":7,
    "labelFont":"Liberation Sans","labelFontSize":19,"labelColor":"#000","labelPadding":10,
    "titleFont":"Liberation Sans","titleFontSize":40,"titleFontStyle":"italic","titleFontWeight":"bold","titleColor":"#000","titlePadding":6}},
  "color":{"field":"s","type":"nominal","legend":null,
   "scale":{"domain":["p","b","r","c","d","g","l"],"range":["#800080","#0000FF","#FF0000","#00FFFF","#800000","#008080","#CCFFCC"]}}
 }},
{"data":{"name":"zero"},
 "mark":{"type":"line","color":"#FFFF99","strokeWidth":2.5},
 "encoding":{"x":{"field":"t","type":"quantitative","title":"Time"},"y":{"field":"v","type":"quantitative","title":"THDi(%)"}}},
{"data":{"name":"notes"},
 "mark":{"type":"rect","fill":"#FFFF99","stroke":"#000000","strokeWidth":2.5},
 "encoding":{"x":{"field":"x1","type":"quantitative","title":"Time"},"x2":{"field":"x2"},"y":{"field":"y1","type":"quantitative","title":"THDi(%)"},"y2":{"field":"y2"}}},
{"data":{"name":"notes"},
 "mark":{"type":"text","font":"Liberation Sans","fontWeight":"bold","fontSize":32,"color":"#FF0000","align":"center","baseline":"middle"},
 "encoding":{"x":{"field":"tx","type":"quantitative","title":"Time"},"y":{"field":"ty","type":"quantitative","title":"THDi(%)"},"text":{"field":"label"}}}
]
}
